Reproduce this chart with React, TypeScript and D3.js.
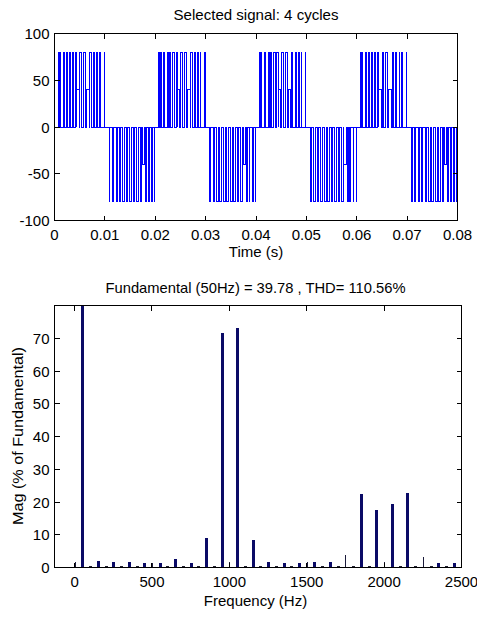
import React from 'react';
import * as d3 from 'd3';

// ---------- data ----------
const TIME_TICKS = [0, 0.01, 0.02, 0.03, 0.04, 0.05, 0.06, 0.07, 0.08];
const TIME_LABELS = ['0', '0.01', '0.02', '0.03', '0.04', '0.05', '0.06', '0.07', '0.08'];
const SIGNAL_TICKS = [-100, -50, 0, 50, 100];
const CYCLE_STARTS = [0, 0.02, 0.04, 0.06];
// pulses inside each half cycle: [start ms, end ms, level]
const POS_PULSES_MS: [number, number, number][] = [
  [0.7, 0.8, 80], [1.0, 1.15, 80], [1.7, 1.9, 80], [2.4, 2.6, 80], [2.9, 3.1, 80],
  [3.5, 3.8, 80], [4.15, 4.4, 80], [4.4, 4.9, 40], [5.05, 5.4, 80], [5.8, 6.2, 80],
  [6.4, 6.9, 40], [7.0, 7.3, 80], [7.75, 7.95, 80], [8.4, 8.55, 80], [8.95, 9.05, 80], [9.85, 9.92, 80],
];
const NEG_PULSES_MS: [number, number, number][] = [
  [0.85, 1.0, -80], [1.5, 1.75, -80], [2.25, 2.5, -80], [2.85, 3.15, -80], [3.55, 3.9, -80],
  [4.2, 4.55, -80], [4.9, 5.25, -80], [5.6, 5.95, -80], [6.3, 6.6, -80], [7.0, 7.3, -80],
  [7.45, 7.9, -40], [8.1, 8.3, -80], [8.65, 8.8, -80], [9.3, 9.42, -80], [9.88, 9.95, -80],
];
const START_LEVEL = -80;
const END_LEVEL = -40;

const FREQ_TICKS = [0, 500, 1000, 1500, 2000, 2500];
const MAG_TICKS = [0, 10, 20, 30, 40, 50, 60, 70];
const FUNDAMENTAL_HZ = 50;
// harmonic orders 0..50, magnitude in % of fundamental
const HARMONIC_MAGS = [
  1.7, 100, 0.6, 2.0, 0.6, 1.7, 0.6, 1.7, 0.6, 1.3,
  1.4, 1.4, 0.6, 2.5, 0.6, 1.3, 0.6, 8.9, 0.6, 71.5,
  1.7, 73.0, 0.6, 8.5, 0.6, 1.6, 0.6, 1.3, 0.6, 1.3,
  1.7, 1.7, 0.6, 1.7, 0.6, 3.7, 0.6, 22.3, 0.6, 17.6,
  1.7, 19.3, 0.6, 22.8, 0.6, 3.2, 0.6, 1.3, 0.6, 1.4, 0.6,
];

const TITLE_TOP = 'Selected signal: 4 cycles';
const XLABEL_TOP = 'Time (s)';
const TITLE_BOTTOM = 'Fundamental (50Hz) = 39.78 , THD= 110.56%';
const XLABEL_BOTTOM = 'Frequency (Hz)';
const YLABEL_BOTTOM = 'Mag (% of Fundamental)';

// ---------- style ----------
const FONT = "'Liberation Sans', Arial, Helvetica, sans-serif";
const FS = 15;
const THIN_ORDERS = new Set([0, 10, 20, 30, 35, 40, 45]);

export default function App() {
  const W = 477, H = 618;
  // top axes
  const tx = d3.scaleLinear().domain([0, 0.08]).range([54.5, 457.5]);
  const ty = d3.scaleLinear().domain([-100, 100]).range([220.5, 33.5]);
  // bottom axes
  const bx = d3.scaleLinear().domain([-130, 2500]).range([54.5, 461.5]);
  const by = d3.scaleLinear().domain([0, 80]).range([567.5, 305.5]);

  // build waveform points
  const pts: [number, number][] = [[0, START_LEVEL], [0.00004, 0]];
  CYCLE_STARTS.forEach((c) => {
    POS_PULSES_MS.forEach(([s, e, v]) => {
      pts.push([c + s / 1000, v]);
      pts.push([c + e / 1000, 0]);
    });
    NEG_PULSES_MS.forEach(([s, e, v]) => {
      pts.push([c + 0.01 + s / 1000, v]);
      pts.push([c + 0.01 + e / 1000, 0]);
    });
  });
  pts.push([0.07996, END_LEVEL]);
  pts.push([0.08, END_LEVEL]);
  const line = d3.line<[number, number]>()
    .x((d) => tx(d[0]))
    .y((d) => ty(d[1]))
    .curve(d3.curveStepAfter);
  const wavePath = line(pts) || '';

  const TL = 5;
  const [tL, tR] = tx.range();
  const [tB, tT] = ty.range();
  const [bL, bR] = bx.range();
  const [bB, bT] = by.range();

  return (
    <svg width={W} height={H} style={{ position: 'absolute', left: 0, top: 0, background: '#fff' }}
      fontFamily={FONT} fontSize={FS}>
      <rect x={0} y={0} width={W} height={H} fill="#fff" />
      <defs>
        <clipPath id="clipTop"><rect x={tL} y={tT} width={tR - tL} height={tB - tT} /></clipPath>
        <clipPath id="clipBot"><rect x={bL} y={bT} width={bR - bL} height={bB - bT} /></clipPath>
      </defs>

      {/* ---------- TOP PLOT ---------- */}
      <text x={256} y={19.5} textAnchor="middle" textLength={165} lengthAdjust="spacingAndGlyphs">{TITLE_TOP}</text>
      <path d={wavePath} fill="none" stroke="#0000ff" strokeWidth={1} clipPath="url(#clipTop)" shapeRendering="crispEdges" />
      <rect x={tL} y={tT} width={tR - tL} height={tB - tT} fill="none" stroke="#000" strokeWidth={1} shapeRendering="crispEdges" />
      {TIME_TICKS.map((t, i) => (
        <g key={'tt' + i}>
          <line x1={tx(t)} x2={tx(t)} y1={tB} y2={tB - TL} stroke="#000" shapeRendering="crispEdges" />
          <line x1={tx(t)} x2={tx(t)} y1={tT} y2={tT + TL} stroke="#000" shapeRendering="crispEdges" />
          <text x={tx(t)} y={239.5} textAnchor="middle">{TIME_LABELS[i]}</text>
        </g>
      ))}
      {SIGNAL_TICKS.map((v, i) => (
        <g key={'sy' + i}>
          <line x1={tL} x2={tL + TL} y1={ty(v)} y2={ty(v)} stroke="#000" shapeRendering="crispEdges" />
          <line x1={tR} x2={tR - TL} y1={ty(v)} y2={ty(v)} stroke="#000" shapeRendering="crispEdges" />
          <text x={49.5} y={ty(v) + 5.5} textAnchor="end">{v}</text>
        </g>
      ))}
      <text x={256} y={256.5} textAnchor="middle">{XLABEL_TOP}</text>

      {/* ---------- BOTTOM PLOT ---------- */}
      <text x={255.5} y={293} textAnchor="middle" textLength={300} lengthAdjust="spacingAndGlyphs">{TITLE_BOTTOM}</text>
      <g clipPath="url(#clipBot)">
        {HARMONIC_MAGS.map((m, k) => {
          const f = k * FUNDAMENTAL_HZ;
          const thin = THIN_ORDERS.has(k);
          const even = k % 2 === 0 && !thin;
          const w = thin ? 1 : 3;
          const cx = Math.round(bx(f));
          const top = by(Math.min(m, 80));
          return (
            <rect key={'b' + k} x={cx - (thin ? 0 : 1)} y={top} width={w} height={bB - top}
              fill={thin ? '#1a1a3a' : even ? '#202030' : '#0a0a66'} shapeRendering="crispEdges" />
          );
        })}
      </g>
      <rect x={bL} y={bT} width={bR - bL} height={bB - bT} fill="none" stroke="#000" strokeWidth={1} shapeRendering="crispEdges" />
      {FREQ_TICKS.map((f, i) => (
        <g key={'ft' + i}>
          <line x1={bx(f)} x2={bx(f)} y1={bB} y2={bB - TL} stroke="#000" shapeRendering="crispEdges" />
          <line x1={bx(f)} x2={bx(f)} y1={bT} y2={bT + TL} stroke="#000" shapeRendering="crispEdges" />
          <text x={bx(f)} y={587} textAnchor="middle">{f}</text>
        </g>
      ))}
      {MAG_TICKS.map((v, i) => (
        <g key={'my' + i}>
          <line x1={bL} x2={bL + TL} y1={by(v)} y2={by(v)} stroke="#000" shapeRendering="crispEdges" />
          <line x1={bR} x2={bR - TL} y1={by(v)} y2={by(v)} stroke="#000" shapeRendering="crispEdges" />
          <text x={49.5} y={by(v) + 5.5} textAnchor="end">{v}</text>
        </g>
      ))}
      <text x={255.5} y={606} textAnchor="middle">{XLABEL_BOTTOM}</text>
      <text transform="translate(23,436) rotate(-90)" textAnchor="middle" textLength={178} lengthAdjust="spacingAndGlyphs">{YLABEL_BOTTOM}</text>
    </svg>
  );
}
